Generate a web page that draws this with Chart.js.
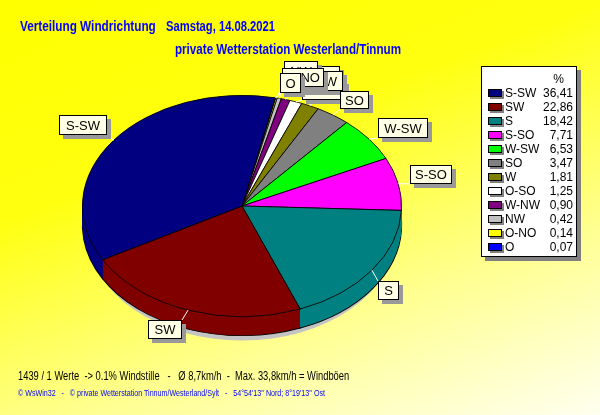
<!DOCTYPE html>
<html>
<head>
<meta charset="utf-8">
<script src="https://cdn.jsdelivr.net/npm/chart.js@4.4.0/dist/chart.umd.min.js"></script>
<style>
  html, body { margin:0; padding:0; }
  #wrap { position:relative; width:600px; height:415px; overflow:hidden;
          background: linear-gradient(160deg, #ffff00 0%, #ffff10 35%, #ffff90 70%, #fffff0 100%); }
  #c { position:absolute; left:0; top:0; }
  .t { position:absolute; white-space:pre; font-family:"Liberation Sans",Arial,sans-serif;
       font-weight:bold; font-size:14px; color:#0000ff; line-height:16px; transform-origin:0 0; }
  .b { position:absolute; white-space:pre; font-family:"Liberation Sans",Arial,sans-serif; transform-origin:0 0; }
  #legend { position:absolute; left:481px; top:66px; width:94px; height:189px; background:#ffffff;
            border:1px solid #000; box-shadow:4px 4px 0 #808080; font-family:"Liberation Sans",Arial,sans-serif; font-size:12px; }
  .row { position:absolute; left:0; width:94px; height:14px; line-height:14px; }
  .sw { position:absolute; left:6px; top:3px; width:12px; height:6px; border:1px solid #000; box-shadow:2px 2px 0 #808080; }
  .nm { position:absolute; left:23px; top:0; }
  .vl { position:absolute; right:3px; top:0; }
</style>
</head>
<body>
<div id="wrap">
  <canvas id="c" width="600" height="415"></canvas>
  <div class="t" style="left:20px;top:18px;transform:scaleX(0.84);">Verteilung Windrichtung</div>
  <div class="t" style="left:166px;top:18px;transform:scaleX(0.8);">Samstag, 14.08.2021</div>
  <div class="t" style="left:175px;top:41px;transform:scaleX(0.83);">private Wetterstation Westerland/Tinnum</div>
  <div id="legend"></div>
  <div class="b" style="left:18px;top:369px;font-size:12px;color:#000;transform:scaleX(0.78);">1439 / 1 Werte  -&gt; 0.1% Windstille   -   Ø 8,7km/h  -  Max. 33,8km/h = Windböen</div>
  <div class="b" style="left:18px;top:388px;font-size:9px;color:#0000ff;transform:scaleX(0.79);">© WsWin32   -   © private Wetterstation Tinnum/Westerland/Sylt   -   54°54'13'' Nord; 8°19'13'' Ost</div>
</div>
<script>
// Windrichtungen, sortiert wie in der Legende
const directions = ['S-SW','SW','S','S-SO','W-SW','SO','W','O-SO','W-NW','NW','O-NO','O'];
const shares = [36.41, 22.86, 18.42, 7.71, 6.53, 3.47, 1.81, 1.25, 0.90, 0.42, 0.14, 0.07];
const colors = ['#000080','#800000','#008080','#ff00ff','#00ff00','#808080','#808000','#ffffff','#800080','#c0c0c0','#ffff00','#0000ff'];

// Beschriftungskaesten: [x, y, w, h]
const labelBoxes = {
  'S-SW':[59,115,48,20], 'SW':[148,320,34,19], 'S':[378,281,21,19], 'S-SO':[410,165,42,19],
  'W-SW':[378,118,50,20], 'W':[318,66,22,20], 'NW':[284,61,34,20], 'O-SO':[302,80,43,20],
  'W-NW':[293,71,50,20], 'SO':[340,91,29,18], 'O-NO':[282,68,42,19], 'O':[280,73,21,20]
};
const labelOrder = ['S-SW','SW','S','S-SO','W-SW','W','NW','O-SO','W-NW','SO','O-NO','O'];

// Legende
const leg = document.getElementById('legend');
leg.innerHTML = '<div class="row" style="top:5px;"><span class="vl" style="right:12px;">%</span></div>';
directions.forEach((d, i) => {
  leg.innerHTML += `<div class="row" style="top:${19 + i*14}px;"><span class="sw" style="background:${colors[i]}"></span>` +
    `<span class="nm">${d}</span><span class="vl">${shares[i].toFixed(2).replace('.', ',')}</span></div>`;
});

// Kuchen wird im Uhrzeigersinn gezeichnet, Original laeuft andersrum
const pieLabels = directions.slice().reverse();
const pieValues = shares.slice().reverse();
const pieColors = colors.slice().reverse();

const squash = 111/160;
const depth = 19;

function sector(ctx, el, dy) {
  ctx.beginPath();
  ctx.moveTo(el.x, el.y + dy);
  ctx.arc(el.x, el.y + dy, el.outerRadius, el.startAngle, el.endAngle);
  ctx.closePath();
}

const pie3d = {
  id:'pie3d',
  beforeDatasetsDraw(chart) {
    const ctx = chart.ctx;
    const arcs = chart.getDatasetMeta(0).data;
    const cx = arcs[0].x, cy = arcs[0].y, r = arcs[0].outerRadius;
    ctx.save();
    ctx.translate(cx, cy); ctx.scale(1, squash); ctx.translate(-cx, -cy);
    const d = depth / squash;
    // Schatten
    ctx.fillStyle = '#c4c4c4';
    ctx.beginPath();
    ctx.arc(cx, cy + d + 9/squash, r - 6, 0, Math.PI*2);
    ctx.fill();
    // Seitenwand
    arcs.forEach((el, i) => {
      sector(ctx, el, d);
      ctx.fillStyle = pieColors[i]; ctx.fill();
      ctx.lineWidth = 1.3; ctx.strokeStyle = '#000'; ctx.stroke();
    });
    for (let dy = d - 1; dy > 0; dy -= 1) {
      arcs.forEach((el, i) => { sector(ctx, el, dy); ctx.fillStyle = pieColors[i]; ctx.fill(); });
    }
  },
  afterDatasetsDraw(chart) {
    const ctx = chart.ctx;
    ctx.restore();
    const arcs = chart.getDatasetMeta(0).data;
    ctx.save();
    labelOrder.forEach(name => {
      const i = pieLabels.indexOf(name);
      const el = arcs[i];
      const m = (el.startAngle + el.endAngle) / 2;
      const px = el.x + el.outerRadius * Math.cos(m);
      const py = el.y + el.outerRadius * squash * Math.sin(m);
      const [x, y, w, h] = labelBoxes[name];
      const qx = Math.min(Math.max(px, x), x + w);
      const qy = Math.min(Math.max(py, y), y + h);
      ctx.strokeStyle = '#ffffff'; ctx.lineWidth = 1;
      ctx.beginPath(); ctx.moveTo(px, py); ctx.lineTo(qx, qy); ctx.stroke();
      ctx.fillStyle = '#999999';
      ctx.fillRect(x + 4, y + 4, w, h);
      ctx.fillStyle = '#ffffe6';
      ctx.fillRect(x, y, w, h);
      ctx.strokeStyle = '#000'; ctx.strokeRect(x + 0.5, y + 0.5, w - 1, h - 1);
      ctx.fillStyle = '#000';
      ctx.font = '13px "Liberation Sans", Arial, sans-serif';
      ctx.textAlign = 'center'; ctx.textBaseline = 'middle';
      ctx.fillText(name, x + w/2, y + h/2 + 1);
    });
    ctx.restore();
  }
};

new Chart(document.getElementById('c'), {
  type:'pie',
  data:{
    labels: pieLabels,
    datasets:[{ data: pieValues, backgroundColor: pieColors, borderColor:'#000000', borderWidth:1 }]
  },
  options:{
    responsive:false,
    animation:false,
    rotation:12,
    layout:{ padding:{ left:82, right:198, top:46, bottom:49 } },
    plugins:{ legend:{ display:false }, tooltip:{ enabled:false } }
  },
  plugins:[pie3d]
});
</script>
</body>
</html>
